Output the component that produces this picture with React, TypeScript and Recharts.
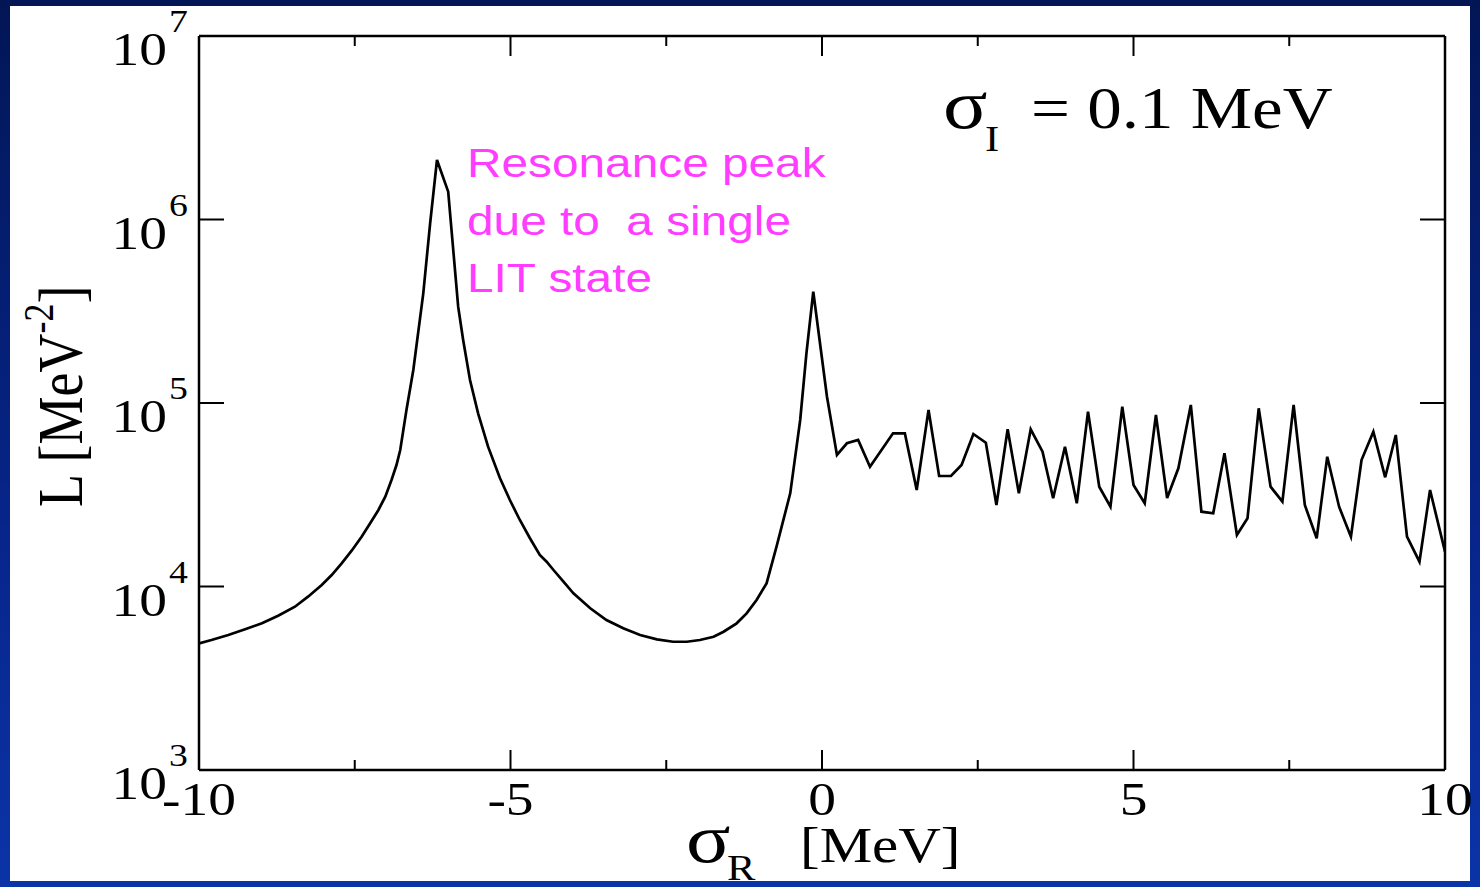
import React from 'react';
import { LineChart, Line, XAxis, YAxis } from 'recharts';

// sigma_R [MeV] and L [MeV^-2]
const sigmaR = [
  -10.0, -9.8, -9.53, -9.26, -8.99, -8.73, -8.46, -8.25, -8.03, -7.87,
  -7.71, -7.55, -7.39, -7.26, -7.12, -7.01, -6.91, -6.83, -6.77, -6.67,
  -6.56, -6.4, -6.29, -6.18, -6.0, -5.84, -5.76, -5.65, -5.52, -5.36,
  -5.17, -5.01, -4.85, -4.69, -4.53, -4.42, -4.31, -4.15, -3.99, -3.72,
  -3.46, -3.19, -2.92, -2.65, -2.39, -2.17, -1.96, -1.74, -1.58, -1.37,
  -1.21, -1.05, -0.89, -0.73, -0.51, -0.35,
  -0.25, -0.14, 0.08, 0.24, 0.4, 0.58, 0.77,
  1.14, 1.33, 1.52, 1.71, 1.88, 2.07, 2.24, 2.43, 2.63, 2.8,
  2.98, 3.16, 3.35, 3.54, 3.71, 3.9, 4.09, 4.27, 4.45, 4.63,
  4.82, 5.0, 5.18, 5.36, 5.54, 5.72, 5.92, 6.09, 6.28, 6.46,
  6.66, 6.83, 7.01, 7.2, 7.39, 7.57, 7.75, 7.94, 8.11, 8.3,
  8.49, 8.66, 8.85, 9.04, 9.21, 9.39, 9.59, 9.76, 10.0,
];

const lValues = [
  4900, 5110, 5440, 5850, 6300, 6930, 7760, 8800, 10190, 11550,
  13380, 15670, 18680, 21910, 26120, 30860, 38050, 45930, 55440, 91600,
  151300, 396000, 953500, 2110000, 1418000, 334800, 220400, 133500, 87880, 57800,
  39020, 29600, 23040, 18380, 14850, 13650, 12300, 10620, 9180, 7605,
  6570, 5920, 5440, 5155, 5000, 5000, 5110, 5325, 5670, 6300,
  7140, 8440, 10400, 16480, 32200, 80800,
  186600, 404100, 108200, 52100, 60320, 62860, 44970,
  68380, 68380, 33560, 91600, 40010, 40010, 45930, 67780, 60760, 27800,
  71900, 32200, 71900, 54270, 30240, 57800, 28410, 89670, 34990, 27220,
  95450, 35740, 28410, 86030, 30360, 44060, 97520, 25560, 25060, 53200,
  19090, 23530, 93560, 34990, 28990, 97520, 27800, 18310, 50980, 27220,
  18680, 48910, 69770, 39370, 66920, 18680, 13650, 33560, 15470,
];

const xTicks = [-10, -7.5, -5, -2.5, 0, 2.5, 5, 7.5, 10];
const xMajor = [-10, -5, 0, 5, 10];
const xDomain = [-10, 10];
const yTicks = [1e3, 1e4, 1e5, 1e6, 1e7];
const yExponents = ['3', '4', '5', '6', '7'];

const annotationLines = ['Resonance peak', 'due to  a single', 'LIT state'];

const data = sigmaR.map((x, i) => ({ x, L: lValues[i] }));

const W = 1480;
const H = 887;
const margin = { top: 35, right: 34, bottom: 116, left: 198 };
// plot box (each axis is 1px thick in the layout)
const PLOT_LEFT = margin.left + 1;
const PLOT_TOP = margin.top + 1;
const PLOT_W = W - margin.left - margin.right - 2;

const SX = 1.18; // the slide is stretched sideways
const SERIF = '"Liberation Serif", "Times New Roman", serif';
const SANS = '"Liberation Sans", Arial, sans-serif';

const Stretched = ({ x, y, size, anchor = 'start', font = SERIF, fill = '#000', children }: any) => (
  <g transform={`translate(${x},${y}) scale(${SX},1)`}>
    <text x={0} y={0} fontSize={size} fontFamily={font} textAnchor={anchor} fill={fill} style={{ whiteSpace: 'pre' }}>
      {children}
    </text>
  </g>
);

const BottomTick = ({ x, y, payload }: any) => {
  const major = xMajor.includes(payload.value);
  return (
    <g>
      <line x1={x} x2={x} y1={y} y2={y - (major ? 20 : 10)} stroke="#000" strokeWidth={2} />
      {major && (
        <Stretched x={x} y={y + 45} size={47} anchor="middle">
          {String(payload.value)}
        </Stretched>
      )}
    </g>
  );
};

const LeftTick = ({ x, y, index }: any) => (
  <g>
    <line x1={x} x2={x + 25} y1={y} y2={y} stroke="#000" strokeWidth={2} />
    <Stretched x={x - 32} y={y + 29} size={47} anchor="end">10</Stretched>
    <Stretched x={x - 30} y={y - 4} size={32}>{yExponents[index]}</Stretched>
  </g>
);

const RightTick = ({ x, y }: any) => (
  <line x1={x} x2={x - 25} y1={y} y2={y} stroke="#000" strokeWidth={2} />
);

const axisLine = { stroke: '#000', strokeWidth: 2.5 };

// top frame ticks, mirrored from the bottom axis (same linear domain)
const topTickX = (v: number) => PLOT_LEFT + ((v - xDomain[0]) / (xDomain[1] - xDomain[0])) * PLOT_W;

export default function App() {
  return (
    <div
      style={{
        position: 'absolute',
        left: 0,
        top: 0,
        width: W,
        height: H,
        background: 'linear-gradient(to bottom, #021656 0%, #07258a 60%, #0b34a8 100%)',
        overflow: 'hidden',
      }}
    >
      <div style={{ position: 'absolute', left: 10, top: 6, width: 1460, height: 875, background: '#fff' }} />
      <div style={{ position: 'absolute', left: 0, top: 0 }}>
        <LineChart width={W} height={H} data={data} margin={margin}>
          <XAxis
            xAxisId="b"
            dataKey="x"
            type="number"
            domain={xDomain}
            ticks={xTicks}
            interval={0}
            height={1}
            tickSize={0}
            tickMargin={0}
            axisLine={axisLine}
            tickLine={false}
            tick={<BottomTick />}
            allowDataOverflow
          />
          <XAxis
            xAxisId="t"
            dataKey="x"
            orientation="top"
            type="number"
            domain={xDomain}
            height={1}
            axisLine={axisLine}
            tickLine={false}
            tick={false}
            allowDataOverflow
          />
          <YAxis
            yAxisId="l"
            type="number"
            scale="log"
            domain={[1e3, 1e7]}
            ticks={yTicks}
            interval={0}
            width={1}
            tickSize={0}
            tickMargin={0}
            axisLine={axisLine}
            tickLine={false}
            tick={<LeftTick />}
            allowDataOverflow
          />
          <YAxis
            yAxisId="r"
            orientation="right"
            type="number"
            scale="log"
            domain={[1e3, 1e7]}
            ticks={yTicks}
            interval={0}
            width={1}
            tickSize={0}
            tickMargin={0}
            axisLine={axisLine}
            tickLine={false}
            tick={<RightTick />}
            allowDataOverflow
          />
          {/* invisible copy so the mirrored top/right axes share the same scales */}
          <Line
            xAxisId="t"
            yAxisId="r"
            dataKey="L"
            type="linear"
            stroke="none"
            dot={false}
            activeDot={false}
            isAnimationActive={false}
          />
          <Line
            xAxisId="b"
            yAxisId="l"
            dataKey="L"
            type="linear"
            stroke="#000"
            strokeWidth={2.7}
            strokeLinejoin="miter"
            dot={false}
            isAnimationActive={false}
          />
        </LineChart>
      </div>
      <svg width={W} height={H} style={{ position: 'absolute', left: 0, top: 0, pointerEvents: 'none' }}>
        {xTicks.map((v) => (
          <line
            key={v}
            x1={topTickX(v)}
            x2={topTickX(v)}
            y1={PLOT_TOP}
            y2={PLOT_TOP + (xMajor.includes(v) ? 20 : 10)}
            stroke="#000"
            strokeWidth={2}
          />
        ))}

        {/* sigma_I label */}
        <Stretched x={943} y={128} size={70}>σ</Stretched>
        <Stretched x={985} y={151} size={36}>I</Stretched>
        <Stretched x={1031} y={128} size={58.5}>= 0.1 MeV</Stretched>

        {/* annotation */}
        {annotationLines.map((t, i) => (
          <Stretched key={t} x={467} y={177 + i * 57.5} size={40.5} font={SANS} fill="#ff3cff">
            {t}
          </Stretched>
        ))}

        {/* x axis title */}
        <Stretched x={686} y={862} size={70}>σ</Stretched>
        <Stretched x={727} y={880} size={36}>R</Stretched>
        <Stretched x={800} y={862} size={50}>[MeV]</Stretched>

        {/* y axis title */}
        <g transform={`translate(82,507) scale(${SX},1) rotate(-90)`}>
          <text fontFamily={SERIF} fontSize={54} fill="#000">
            L [MeV
            <tspan fontSize={36} dy={-25}>-2</tspan>
            <tspan fontSize={54} dy={25}>]</tspan>
          </text>
        </g>
      </svg>
    </div>
  );
}
